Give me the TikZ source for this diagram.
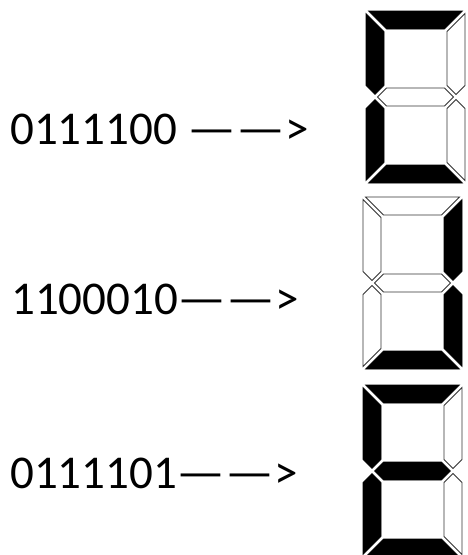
\documentclass[tikz,border=0pt]{standalone}
\usepackage{fontspec}
\setmainfont{Carlito}
\usepackage{graphicx}
\usepackage{tikz}
\usetikzlibrary{positioning}

\tikzset{
  code/.style={inner sep=0pt, anchor=base west, font=\fontsize{47}{56}\selectfont},
  segon/.style={fill=black, draw=black, line width=0.8pt},
  segoff/.style={fill=white, draw=black!80, line width=0.9pt}
}

% long arrow made of two dashes
\newcommand{\dasharrow}{\scalebox{1.15}[1]{——}>}

% one seven-segment digit: #1,#2 top left corner, #3..#9 = a b c d e f g
\newcommand{\segdigit}[9]{%
  \begin{scope}[shift={(#1,#2)}]
    \def\W{99}\def\H{172}\def\t{18}\def\h{9}\def\c{2.6}
    \pgfmathsetmacro{\ym}{\H/2}
    % a: top
    \draw[#3] (\c,0) -- (\W-\c,0) -- (\W-\t-\c,\t) -- (\t+\c,\t) -- cycle;
    % b: upper right
    \draw[#4] (\W,\c) -- (\W-\t,\t+\c) -- (\W-\t,\ym-\h-\c) -- (\W-\h,\ym-\c) -- (\W,\ym-\h-\c) -- cycle;
    % c: lower right
    \draw[#5] (\W,\H-\c) -- (\W-\t,\H-\t-\c) -- (\W-\t,\ym+\h+\c) -- (\W-\h,\ym+\c) -- (\W,\ym+\h+\c) -- cycle;
    % d: bottom
    \draw[#6] (\c,\H) -- (\W-\c,\H) -- (\W-\t-\c,\H-\t) -- (\t+\c,\H-\t) -- cycle;
    % e: lower left
    \draw[#7] (0,\H-\c) -- (\t,\H-\t-\c) -- (\t,\ym+\h+\c) -- (\h,\ym+\c) -- (0,\ym+\h+\c) -- cycle;
    % f: upper left
    \draw[#8] (0,\c) -- (\t,\t+\c) -- (\t,\ym-\h-\c) -- (\h,\ym-\c) -- (0,\ym-\h-\c) -- cycle;
    % g: middle
    \draw[#9] (\h+\c,\ym) -- (\t+\c,\ym-\h) -- (\W-\t-\c,\ym-\h) -- (\W-\h-\c,\ym) -- (\W-\t-\c,\ym+\h) -- (\t+\c,\ym+\h) -- cycle;
  \end{scope}}

\begin{document}
\begin{tikzpicture}[x=1pt, y=-1pt]
    \useasboundingbox (0,0) rectangle (468,555);
    % Codes
    \node[code] (code1) at (10,144) {0111100 \dasharrow};
    \node[code] (code2) at (11,314) {1100010\dasharrow};
    \node[code] (code3) at (10,488) {0111101\dasharrow};

    % Displays
    \segdigit{366}{11}{segon}{segoff}{segoff}{segon}{segon}{segon}{segoff}
    \segdigit{363}{197}{segoff}{segon}{segon}{segon}{segoff}{segoff}{segoff}
    \segdigit{363}{385}{segon}{segoff}{segoff}{segon}{segon}{segon}{segon}
\end{tikzpicture}
\end{document}
